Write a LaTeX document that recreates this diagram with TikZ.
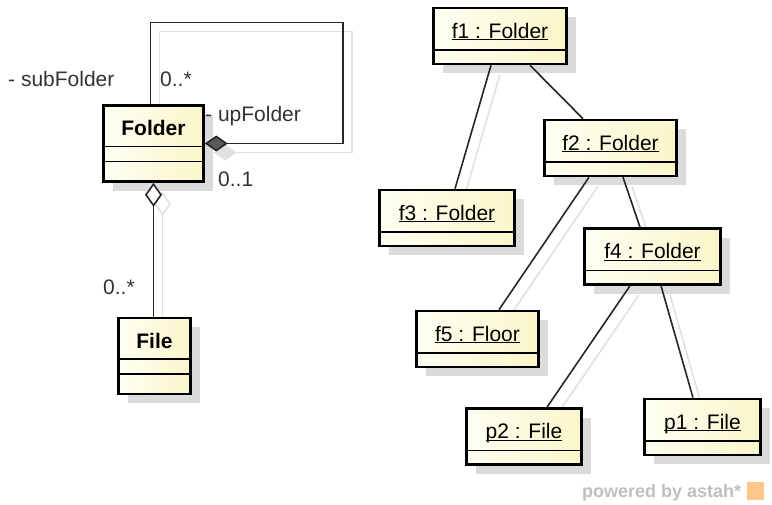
\documentclass[tikz,border=0pt]{standalone}
\usepackage{fontspec}
\setmainfont{Liberation Sans}
\usetikzlibrary{arrows.meta,shadows,backgrounds}

\definecolor{umllight}{HTML}{FFFFF2}
\definecolor{umldark}{HTML}{FAF6CA}
\newcommand{\fsz}{\fontsize{21}{25}\selectfont}
\newcommand{\objname}[1]{\underline{\smash{#1}}}

\tikzset{
  box/.style={draw=black, line width=2.6pt, left color=umllight, right color=umldark,
    inner sep=0pt, font=\fsz,
    drop shadow={shadow xshift=9pt, shadow yshift=-9pt, fill=black!14, opacity=1}},
  objbox/.style={box, minimum height=56pt, text height=30pt, text depth=26pt,
    path picture={\draw[line width=1.4pt] ([yshift=14pt]path picture bounding box.south west)
      -- ([yshift=14pt]path picture bounding box.south east);}},
  clsbox/.style={box, minimum height=76pt, text height=30pt, text depth=46pt, font=\fsz\bfseries,
    path picture={\draw[line width=1.4pt] ([yshift=35pt]path picture bounding box.south west)
      -- ([yshift=35pt]path picture bounding box.south east)
      ([yshift=20pt]path picture bounding box.south west)
      -- ([yshift=20pt]path picture bounding box.south east);}},
  lbl/.style={inner sep=0pt, anchor=base west, text=black!80, font=\fsz},
  assoc/.style={draw=black!85, line width=1.6pt},
  lshadow/.style={draw=black!12, line width=1.6pt, transform canvas={xshift=9pt, yshift=-9pt}},
  comp/.tip={Diamond[length=23pt, width=16pt, fill=black!65]},
  aggr/.tip={Diamond[open, length=24pt, width=17pt, fill=white]},
}

\begin{document}
\begin{tikzpicture}[x=1pt, y=-1pt]
  \useasboundingbox (0,0) rectangle (772,504);

  % class diagram
  \node[clsbox, minimum width=100pt] (Folder) at (153.5,143.5) {Folder};
  \node[clsbox, minimum width=72pt] (File) at (154.5,356) {File};

  \node[lbl] (subrole) at (8,86) {- subFolder};
  \node[lbl] (submult) at (160,86) {0..*};
  \node[lbl] (uprole) at (205,121) {- upFolder};
  \node[lbl] (upmult) at (218,186) {0..1};
  \node[lbl] (filemult) at (103,294) {0..*};

  % object diagram
  \node[objbox, minimum width=133pt] (f1) at (500,36) {\objname{f1 : Folder}};
  \node[objbox, minimum width=132pt] (f2) at (610.5,148) {\objname{f2 : Folder}};
  \node[objbox, minimum width=135pt] (f3) at (447,218) {\objname{f3 : Folder}};
  \node[objbox, minimum width=136pt] (f4) at (652.5,256.5) {\objname{f4 : Folder}};
  \node[objbox, minimum width=122pt] (f5) at (477.5,339) {\objname{f5 : Floor}};
  \node[objbox, minimum width=115pt] (p2) at (524,436.5) {\objname{p2 : File}};
  \node[objbox, minimum width=116pt] (p1) at (702.5,427) {\objname{p1 : File}};

  % shadows of the links
  \begin{scope}[on background layer]
    \draw[lshadow, {Diamond[length=23pt, width=16pt, fill=black!12]}-] (Folder.east) -- ++(138,0) -- ++(0,-121) -| ([xshift=-3pt]Folder.north);
    \draw[lshadow, {aggr}-] (Folder.south) -- (Folder.south |- File.north);
    \draw[lshadow] ([xshift=-9pt]f1.south) -- ([xshift=8pt]f3.north);
    \draw[lshadow] ([xshift=30pt]f1.south) -- ([xshift=-27.5pt]f2.north);
    \draw[lshadow] ([xshift=-21.5pt]f2.south) -- ([xshift=21.5pt]f5.north);
    \draw[lshadow] ([xshift=12.5pt]f2.south) -- ([xshift=-12.5pt]f4.north);
    \draw[lshadow] ([xshift=-22.5pt]f4.south) -- ([xshift=23pt]p2.north);
    \draw[lshadow] ([xshift=8.5pt]f4.south) -- ([xshift=-9.5pt]p1.north);
  \end{scope}

  % links
  \draw[assoc, {comp}-] (Folder.east) -- ++(138,0) -- ++(0,-121) -| ([xshift=-3pt]Folder.north);
  \draw[assoc, {aggr}-] (Folder.south) -- (Folder.south |- File.north);
  \draw[assoc] ([xshift=-9pt]f1.south) -- ([xshift=8pt]f3.north);
  \draw[assoc] ([xshift=30pt]f1.south) -- ([xshift=-27.5pt]f2.north);
  \draw[assoc] ([xshift=-21.5pt]f2.south) -- ([xshift=21.5pt]f5.north);
  \draw[assoc] ([xshift=12.5pt]f2.south) -- ([xshift=-12.5pt]f4.north);
  \draw[assoc] ([xshift=-22.5pt]f4.south) -- ([xshift=23pt]p2.north);
  \draw[assoc] ([xshift=8.5pt]f4.south) -- ([xshift=-9.5pt]p1.north);

  % watermark
  \node[lbl, text=black!25, font=\fontsize{18}{21}\selectfont\bfseries] (mark) at (582,497) {powered by astah*};
  \fill[orange!45] (747,482) rectangle (764,500);
\end{tikzpicture}
\end{document}
